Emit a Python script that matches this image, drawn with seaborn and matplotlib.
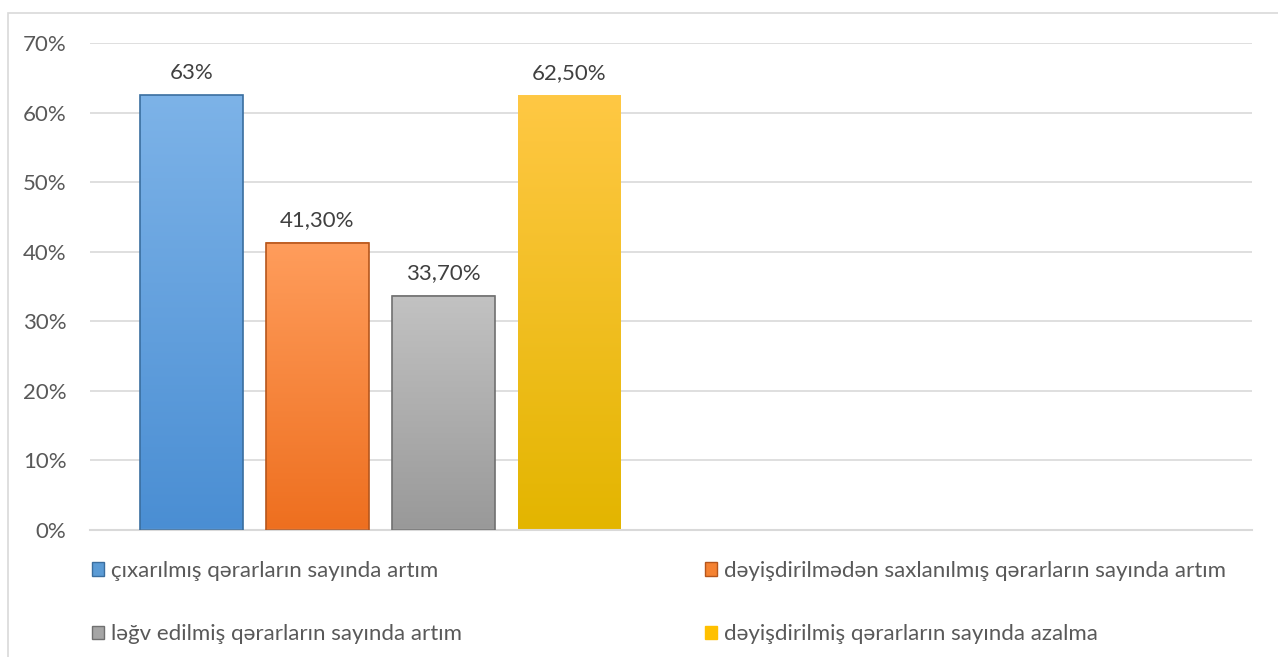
""" Bar chart: changes in decision counts (percent).
"""

import numpy as np
import pandas as pd
import matplotlib
matplotlib.use("Agg")
import matplotlib.pyplot as plt
from matplotlib.colors import LinearSegmentedColormap
from matplotlib.patches import Patch, Rectangle
import seaborn as sns

# Data
series = [
    "çıxarılmış qərarların sayında artım",
    "dəyişdirilmədən saxlanılmış qərarların sayında artım",
    "ləğv edilmiş qərarların sayında artım",
    "dəyişdirilmiş qərarların sayında azalma",
]
values = [0.625, 0.413, 0.337, 0.625]
labels = ["63%", "41,30%", "33,70%", "62,50%"]
yticks = [0, 0.1, 0.2, 0.3, 0.4, 0.5, 0.6, 0.7]

# colours (base, top of gradient, bottom of gradient, edge)
base = ["#5B9BD5", "#F58232", "#A5A5A5", "#FFC000"]
tops = ["#7DB3E8", "#FF9D5C", "#C2C2C2", "#FFC844"]
bots = ["#4A8ED3", "#EE6F1F", "#999999", "#E3B500"]
edges = ["#3A6E9F", "#B5561C", "#707070", "none"]

df = pd.DataFrame({"cat": [""] * len(series), "series": series, "value": values})

sns.set_style("white")
plt.rcParams["font.family"] = ["Lato", "DejaVu Sans"]
text_col = "#595959"
fs = 16

fig = plt.figure(figsize=(12.78, 6.57), dpi=100)
ax = fig.add_axes([90 / 1278, 127 / 657, 1162 / 1278, 487 / 657])

sns.barplot(data=df, x="cat", y="value", hue="series", hue_order=series,
            palette=base, width=0.8675, gap=0.183, legend=False, ax=ax,
            err_kws={"linewidth": 0})

grad = np.linspace(0, 1, 256).reshape(-1, 1)
for i, p in enumerate(ax.patches[:len(series)]):
    x0, y0, w, h = p.get_x(), p.get_y(), p.get_width(), p.get_height()
    cmap = LinearSegmentedColormap.from_list("g%d" % i, [bots[i], tops[i]])
    ax.imshow(grad, extent=[x0, x0 + w, y0, y0 + h], origin="lower",
              aspect="auto", cmap=cmap, zorder=2.5)
    p.set_facecolor("none")
    p.set_edgecolor(edges[i])
    p.set_linewidth(1.2)
    p.set_zorder(3)
    ax.annotate(labels[i], (x0 + w / 2, y0 + h), xytext=(0, 9),
                textcoords="offset points", ha="center", va="bottom",
                fontsize=fs, color="#404040")

ax.set_xlim(-0.5, 1.5)
ax.set_ylim(0, 0.7)
ax.set_yticks(yticks)
ax.set_yticklabels(["%d%%" % round(v * 100) for v in yticks])
ax.tick_params(axis="y", length=0, pad=17, labelsize=fs, labelcolor=text_col)
ax.set_xticks([])
ax.set_xlabel("")
ax.set_ylabel("")
ax.yaxis.grid(True, color="#D9D9D9", linewidth=1.2)
ax.set_axisbelow(True)
for s in ["top", "right", "left"]:
    ax.spines[s].set_visible(False)
ax.spines["bottom"].set_color("#D9D9D9")
ax.spines["bottom"].set_linewidth(1.5)

# legend, filled row by row like the original
handles = [Patch(facecolor=base[i], edgecolor=edges[i] if edges[i] != "none" else base[i])
           for i in range(len(series))]
order = [0, 2, 1, 3]
fig.legend([handles[i] for i in order], [series[i] for i in order],
           ncol=2, loc="upper left", bbox_to_anchor=(92 / 1278, 1 - 561 / 657, 1134 / 1278, 0),
           mode="expand", frameon=False, fontsize=fs, labelcolor=text_col,
           handlelength=0.55, handleheight=0.55, handletextpad=0.3,
           labelspacing=1.95, borderaxespad=0, borderpad=0)

# chart border
fig.patches.append(Rectangle((8 / 1278, -0.1), 1.2, (657 - 13) / 657 + 0.1,
                             transform=fig.transFigure, fill=False,
                             edgecolor="#D9D9D9", linewidth=1.2))

fig.savefig("out.png", dpi=100)
